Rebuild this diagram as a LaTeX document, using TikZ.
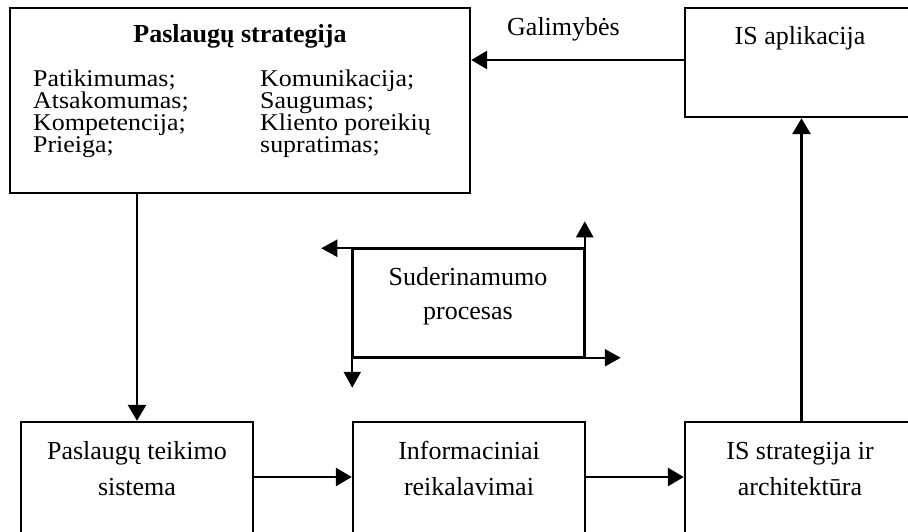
\documentclass[tikz,border=0pt]{standalone}
\usepackage{fontspec}
\setmainfont{Liberation Serif}
\newfontfamily\listfont{Liberation Serif}[FakeStretch=1.08]
\usetikzlibrary{arrows.meta}
\begin{document}
\begin{tikzpicture}[x=1pt,y=-1pt,
  every node/.style={font=\fontsize{26}{22}\selectfont},
  box/.style={draw,line width=2.4pt,minimum width=#1,inner sep=0pt},
  flow/.style={line width=2.8pt,-{Triangle[length=16pt,width=18pt]}},
  cyc/.style={line width=2.4pt,-{Triangle[length=16pt,width=17pt]}},
  column/.style={anchor=base west,inner sep=0pt,align=left,
    font=\listfont\fontsize{24}{22}\selectfont},
  mid/.style={anchor=base,inner sep=0pt},
]
\useasboundingbox (0,0) rectangle (908,531);
\clip (0,0) rectangle (908,531);

% boxes
\node[box=460pt,minimum height=185pt] (strat) at (240,100.5) {};
\node[box=233pt,minimum height=109pt] (app) at (801.5,62.5) {};
\node[box=232pt,minimum height=123pt] (sys) at (137,483.5) {};
\node[box=232pt,minimum height=123pt] (info) at (469,483.5) {};
\node[box=233pt,minimum height=123pt] (isa) at (801.5,483.5) {};
\node[draw,line width=1.5pt,minimum width=231pt,minimum height=108pt,inner sep=0pt] (proc) at (468.5,303) {};

% service strategy contents (the base anchor sits on the last line)
\node[mid] (title) at (240,42) {\bfseries Paslaugų strategija};
\node[column] (cola) at (33,152) {Patikimumas;\\Atsakomumas;\\Kompetencija;\\Prieiga;};
\node[column] (colb) at (260,152) {Komunikacija;\\Saugumas;\\Kliento poreikių\\supratimas;};

% other box texts
\node[mid] (appt) at (800,44) {IS aplikacija};
\node[mid] (syst1) at (137,459) {Paslaugų teikimo};
\node[mid] (syst2) at (137,495) {sistema};
\node[mid] (inft1) at (469,459) {Informaciniai};
\node[mid] (inft2) at (469,495) {reikalavimai};
\node[mid] (isat1) at (800,459) {IS strategija ir};
\node[mid] (isat2) at (800,495) {architektūra};
\node[mid] (proct1) at (468,285) {Suderinamumo};
\node[mid] (proct2) at (468,319) {procesas};
\node[anchor=base west,inner sep=0pt] (gal) at (507,35) {Galimybės};

% connectors
\draw[flow] ([yshift=2.5pt]app.west) -- ([yshift=2.5pt]app.west -| strat.east);
\draw[flow] (strat.south -| sys.north) -- (sys.north);
\draw[flow] ([yshift=6.5pt]sys.east) -- ([yshift=6.5pt]info.west);
\draw[flow] ([yshift=6.5pt]info.east) -- ([yshift=6.5pt]isa.west);
\draw[flow] (isa.north) -- (isa.north |- app.south);

% alignment cycle around the process box
\coordinate (tl) at (proc.north west);
\coordinate (tr) at (proc.north east);
\coordinate (bl) at (proc.south west);
\coordinate (br) at (proc.south east);
\draw[cyc] (tr) -- ([xshift=-31pt]tl);
\draw[cyc] (br) -- ([yshift=27pt]tr);
\draw[cyc] (bl) -- ([xshift=36pt]br);
\draw[cyc] (tl) -- ([yshift=-30pt]bl);
\end{tikzpicture}
\end{document}
